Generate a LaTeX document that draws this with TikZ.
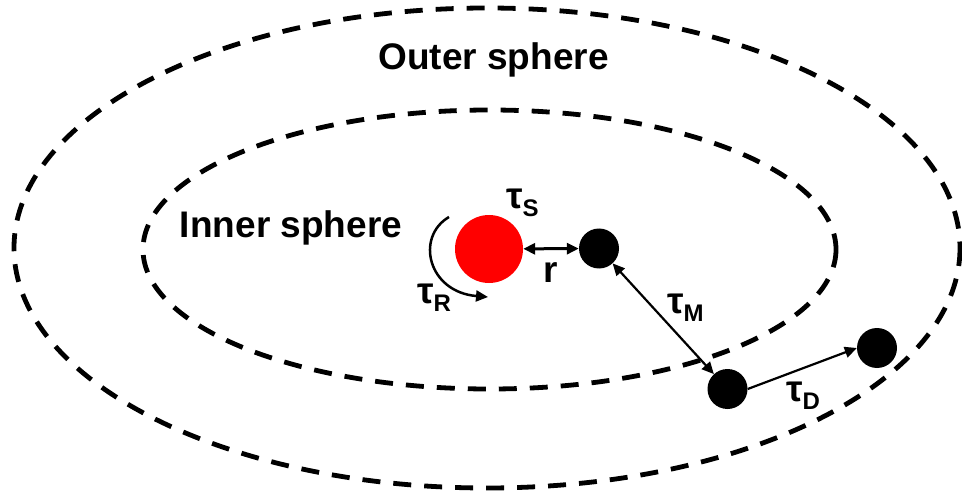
\documentclass[tikz,border=0pt]{standalone}
\usepackage{fontspec}
\setmainfont{Liberation Sans}
\usetikzlibrary{arrows.meta}
\newcommand\tausub[1]{\raisebox{-8pt}{\fontsize{24}{24}\selectfont #1}}
\begin{document}
\begin{tikzpicture}[x=1pt,y=-1pt,
  shell/.style={draw=black, line width=4.8pt, dash pattern=on 18pt off 13pt},
  ball/.style={circle, fill=black, minimum size=40pt, inner sep=0pt},
  lbl/.style={font=\fontsize{37}{37}\selectfont\bfseries, inner sep=0pt},
  tip/.style={-{Triangle[length=12pt,width=11pt]}},
  dtip/.style={{Triangle[length=12pt,width=11pt]}-{Triangle[length=12pt,width=11pt]}}]
\useasboundingbox (0,0) rectangle (962,492);
\draw[shell] (487,248) ellipse [x radius=473, y radius=240];
\draw[shell] (489.5,249.5) ellipse [x radius=346.5, y radius=139.5];

\node[lbl, anchor=base] (outer) at (493.5,70) {Outer sphere};
\node[lbl, anchor=base] (inner) at (291,237) {Inner sphere};

\node[circle, fill=red, minimum size=68pt, inner sep=0pt] (solute) at (489,249) {};
\node[ball] (m1) at (599,248.5) {};
\node[ball] (m2) at (727.5,389) {};
\node[ball] (m3) at (877,348) {};

\draw[dtip, line width=3pt] (solute) -- (m1);
\draw[dtip, line width=2.2pt] (m1) -- (m2);
\draw[tip, line width=2.2pt] (m2.east) -- (m3.west);
\coordinate (rs) at (449,217);
\coordinate (re) at (488,297);
\draw[tip, line width=2.5pt] (rs) .. controls (415,237) and (428,292) .. (re);

\node[lbl, anchor=base west] (ts) at (506,208) {τ\tausub{S}};
\node[lbl, anchor=base west] (tr) at (417,303) {τ\tausub{R}};
\node[lbl, anchor=base west] (tm) at (667,313) {τ\tausub{M}};
\node[lbl, anchor=base west] (td) at (786,401) {τ\tausub{D}};
\node[lbl, anchor=base] (rl) at (551,282) {r};
\end{tikzpicture}
\end{document}
